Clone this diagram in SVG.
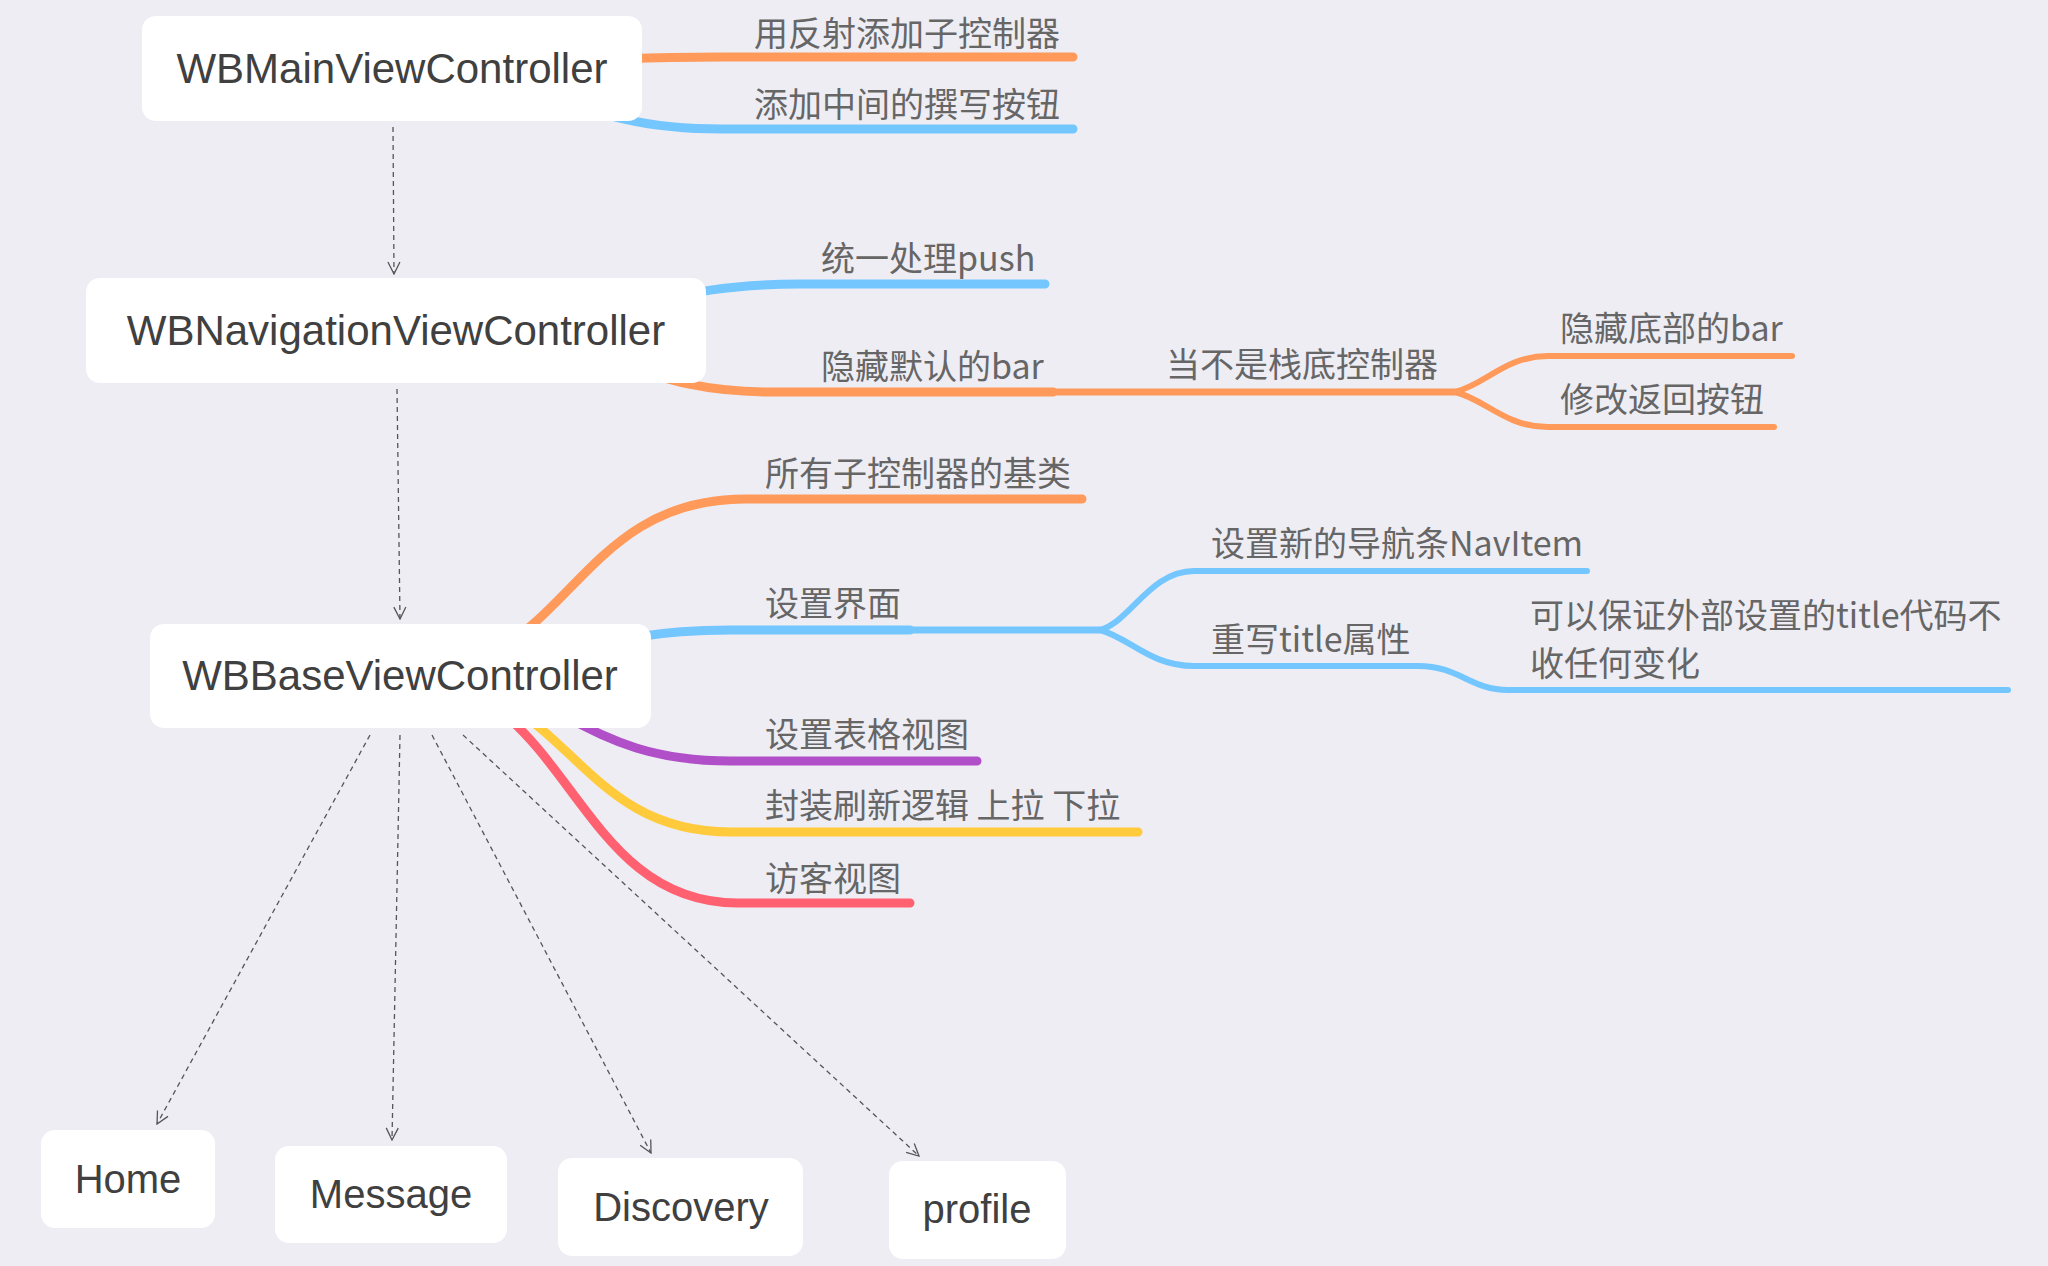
<svg xmlns="http://www.w3.org/2000/svg" width="2048" height="1266" viewBox="0 0 2048 1266">
<defs>
<style>
.bg{fill:#EEEDF4}
.node{fill:#FFFFFF}
.nt{font-family:"Liberation Sans",Arial,sans-serif;fill:#404040;text-anchor:middle}
.big{font-size:42px}
.small{font-size:40px}
.lbl{font-family:"Noto Sans CJK SC","Noto Sans",sans-serif;font-size:34px;fill:#666666}
.br{fill:none;stroke-linecap:round;stroke-linejoin:round}
.w1{stroke-width:9}
.w2{stroke-width:7}
.w3{stroke-width:6}
.or{stroke:#FF9A5A}
.bl{stroke:#74C6FF}
.pu{stroke:#B04FC8}
.ye{stroke:#FFCB3C}
.re{stroke:#FF6170}
.dash{fill:none;stroke:#555555;stroke-width:1.3;stroke-dasharray:5 4}
</style>
<marker id="arr" viewBox="0 0 14 14" refX="13" refY="7" markerWidth="14" markerHeight="14" markerUnits="userSpaceOnUse" orient="auto">
<path d="M1 1 L13 7 L1 13" fill="none" stroke="#555555" stroke-width="1.3"/>
</marker>
</defs>
<rect class="bg" x="0" y="0" width="2048" height="1266"/>

<g id="connectors">
<path class="br w1 or" d="M392 68 C560 68 560 57 722 57 L1073 57"/>
<path class="br w1 bl" d="M392 68 C560 68 560 129 722 129 L1073 129"/>
<path class="br w1 bl" d="M396 330 C640 330 640 284 800 284 L1045 284"/>
<path class="br w1 or" d="M396 330 C620 330 620 392 772 392 L1053 392"/>
<path class="br w2 or" d="M1053 392 L1455 392"/>
<path class="br w3 or" d="M1455 392 C1485 385 1505 356 1548 356 L1792 356"/>
<path class="br w3 or" d="M1455 392 C1485 399 1505 427 1548 427 L1774 427"/>
<path class="br w1 or" d="M400 676 C570 676 570 499 745 499 L1082 499"/>
<path class="br w1 bl" d="M400 676 C570 676 570 630 731 630 L910 630"/>
<path class="br w2 bl" d="M910 630 L1100 630"/>
<path class="br w3 bl" d="M1100 630 C1130 622 1150 571 1194 571 L1587 571"/>
<path class="br w3 bl" d="M1100 630 C1130 638 1150 666 1194 666 L1418 666 C1460 666 1470 690 1508 690 L2008 690"/>
<path class="br w1 pu" d="M400 676 C570 676 570 761 731 761 L977 761"/>
<path class="br w1 ye" d="M400 676 C570 676 570 832 731 832 L1138 832"/>
<path class="br w1 re" d="M400 676 C570 676 570 903 738 903 L910 903"/>
<path class="dash" d="M393 127 L394 274" marker-end="url(#arr)"/>
<path class="dash" d="M397 389 L400 619" marker-end="url(#arr)"/>
<path class="dash" d="M370 735 L157 1124" marker-end="url(#arr)"/>
<path class="dash" d="M400 735 L392 1140" marker-end="url(#arr)"/>
<path class="dash" d="M432 735 L651 1153" marker-end="url(#arr)"/>
<path class="dash" d="M463 735 L919 1156" marker-end="url(#arr)"/>
</g>

<g id="labels">
<text class="lbl" x="754" y="46">用反射添加子控制器</text>
<text class="lbl" x="754" y="117">添加中间的撰写按钮</text>
<text class="lbl" x="821" y="271">统一处理push</text>
<text class="lbl" x="821" y="379">隐藏默认的bar</text>
<text class="lbl" x="1166" y="377">当不是栈底控制器</text>
<text class="lbl" x="1560" y="341">隐藏底部的bar</text>
<text class="lbl" x="1560" y="412">修改返回按钮</text>
<text class="lbl" x="765" y="486">所有子控制器的基类</text>
<text class="lbl" x="765" y="616">设置界面</text>
<text class="lbl" x="1211" y="556">设置新的导航条NavItem</text>
<text class="lbl" x="1211" y="652">重写title属性</text>
<text class="lbl" x="1530" y="628">可以保证外部设置的title代码不</text>
<text class="lbl" x="1530" y="676">收任何变化</text>
<text class="lbl" x="765" y="747">设置表格视图</text>
<text class="lbl" x="765" y="818">封装刷新逻辑 上拉 下拉</text>
<text class="lbl" x="765" y="891">访客视图</text>
</g>

<g id="WBMainViewController">
<rect class="node" x="142" y="16" width="500" height="105" rx="14"/>
<text class="nt big" x="392" y="83">WBMainViewController</text>
</g>
<g id="WBNavigationViewController">
<rect class="node" x="86" y="278" width="620" height="105" rx="14"/>
<text class="nt big" x="396" y="345">WBNavigationViewController</text>
</g>
<g id="WBBaseViewController">
<rect class="node" x="150" y="624" width="501" height="104" rx="14"/>
<text class="nt big" x="400" y="690">WBBaseViewController</text>
</g>
<g id="Home">
<rect class="node" x="41" y="1130" width="174" height="98" rx="14"/>
<text class="nt small" x="128" y="1193">Home</text>
</g>
<g id="Message">
<rect class="node" x="275" y="1146" width="232" height="97" rx="14"/>
<text class="nt small" x="391" y="1208">Message</text>
</g>
<g id="Discovery">
<rect class="node" x="558" y="1158" width="245" height="98" rx="14"/>
<text class="nt small" x="681" y="1221">Discovery</text>
</g>
<g id="profile">
<rect class="node" x="889" y="1161" width="177" height="98" rx="14"/>
<text class="nt small" x="977" y="1223">profile</text>
</g>
</svg>
